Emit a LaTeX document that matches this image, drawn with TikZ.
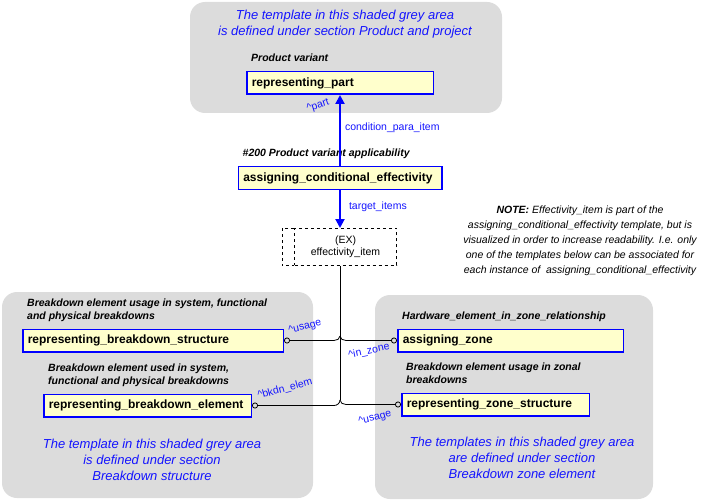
\documentclass[tikz,border=0pt]{standalone}
\usepackage{fontspec}
\setmainfont{Liberation Sans}
\usepackage{tikz}
\usetikzlibrary{positioning}
\usetikzlibrary{arrows.meta}
\definecolor{areagrey}{RGB}{220,220,220}
\definecolor{boxfill}{RGB}{255,255,204}
\definecolor{labelblue}{RGB}{20,20,255}

\tikzset{
  greyarea/.style={fill=areagrey, rounded corners=15pt},
  tmpl/.style={draw=blue, line width=1.5pt, fill=boxfill, align=left, minimum height=22.5pt,
    inner xsep=5pt, inner ysep=0pt, font=\bfseries\fontsize{12}{14}\selectfont},
  heading/.style={inner sep=0pt, align=left, text depth=0pt, font=\bfseries\itshape\fontsize{10.5}{13}\selectfont},
  areanote/.style={text=labelblue, align=center, font=\itshape\fontsize{13}{16}\selectfont},
  remark/.style={align=center, font=\itshape\fontsize{10.5}{15}\selectfont},
  role/.style={text=labelblue, inner sep=1pt, font=\fontsize{10.5}{12}\selectfont},
  flow/.style={draw=blue, line width=2pt, -{Triangle[length=9pt,width=9pt]}},
  link/.style={line width=0.8pt, -{Circle[open,length=6pt]}},
}

\begin{document}
\begin{tikzpicture}[x=1pt, y=-1pt]
        \useasboundingbox (0,0) rectangle (715,500);

        % Shaded grey areas
        \fill[greyarea] (190,2) rectangle (502,113);
        \fill[greyarea] (2,292) rectangle (313,498);
        \fill[greyarea] (375,295) rectangle (653,499);

        % Define the nodes
        \node[tmpl, text width=176.5pt] (rp) at (340,83) {representing\_part};
        \node[tmpl, text width=193.5pt, below=71pt of rp] (acef) {assigning\_conditional\_effectivity};
        \node[draw, dashed, line width=0.8pt, minimum width=102pt, minimum height=37pt, align=center,
          font=\fontsize{10.5}{12}\selectfont, below=38pt of acef, xshift=5.5pt] (eff) {(EX)\\effectivity\_item};
        \draw[dashed, line width=0.8pt] (eff.north west) -- ++(-12,0) |- (eff.south west);

        \node[tmpl, text width=250.5pt] (rbs) at (153,340.5) {representing\_breakdown\_structure};
        \node[tmpl, text width=197.5pt] (rbe) at (147.5,405.5) {representing\_breakdown\_element};
        \node[tmpl, text width=215.5pt] (az) at (510.5,340.5) {assigning\_zone};
        \node[tmpl, text width=177.5pt] (rzs) at (495.5,404.5) {representing\_zone\_structure};

        % Template titles
        \node[heading, above right=9pt and 5pt of rp.north west] (hrp) {Product variant};
        \node[heading, above right=9pt and 5pt of acef.north west] (hacef) {\#200 Product variant applicability};
        \node[heading, above right=9pt and 5pt of rbs.north west] (hrbs) {Breakdown element usage in system, functional\\and physical breakdowns};
        \node[heading, above right=9pt and 5pt of rbe.north west] (hrbe) {Breakdown element used in system,\\functional and physical breakdowns};
        \node[heading, above right=9pt and 5pt of az.north west] (haz) {Hardware\_element\_in\_zone\_relationship};
        \node[heading, above right=9pt and 5pt of rzs.north west] (hrzs) {Breakdown element usage in zonal\\breakdowns};

        % Draw the links
        \draw[flow] (acef.north) -- node[role, right, pos=0.54, xshift=3pt] (cpi) {condition\_para\_item} (acef.north |- rp.south);
        \draw[flow] (acef.south) -- node[role, right, pos=0.45, xshift=7pt] (ti) {target\_items} (acef.south |- eff.north);

        \coordinate (j1) at (340,336);
        \coordinate (j2) at (340,400);
        \draw[line width=0.8pt] (acef.south |- eff.south) -- (j2);
        \draw[link] (j1) to[out=-90, in=0] ++(-6,4.5) -- (rbs.east);
        \draw[link] (j1) to[out=-90, in=180] ++(6,4.5) -- (az.west);
        \draw[link] (j2) to[out=-90, in=0] ++(-6,5.5) -- (rbe.east);
        \draw[link] (j2) to[out=-90, in=180] ++(6,4.5) -- (rzs.west);

        % Role names
        \node[role, rotate=18] (lpart) at (318,106) {\textasciicircum part};
        \node[role, rotate=14] (lusage) at (305,327) {\textasciicircum usage};
        \node[role, rotate=15] (lbkdn) at (285,389) {\textasciicircum bkdn\_elem};
        \node[role, rotate=12] (linzone) at (369,351) {\textasciicircum in\_zone};
        \node[role, rotate=14] (lusagez) at (375,418) {\textasciicircum usage};

        % Area notes
        \node[areanote] (ntop) at (345,24) {The template in this shaded grey area\\is defined under section Product and project};
        \node[areanote] (nleft) at (152,459.5) {The template in this shaded grey area\\is defined under section\\Breakdown structure};
        \node[areanote] (nright) at (522,458) {The templates in this shaded grey area\\are defined under section\\Breakdown zone element};
        \node[remark] (nnote) at (580,241) {\textbf{NOTE:} Effectivity\_item is part of the\\assigning\_conditional\_effectivity template, but is\\visualized in order to increase readability. I.e. only\\one of the templates below can be associated for\\each instance of \ assigning\_conditional\_effectivity};
    \end{tikzpicture}
\end{document}
